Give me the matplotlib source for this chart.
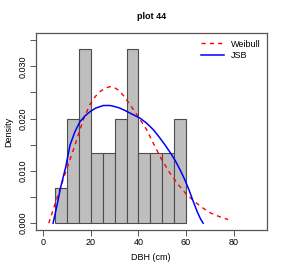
import numpy as np
import matplotlib
matplotlib.use("Agg")
import matplotlib.pyplot as plt

plt.rcParams['font.family'] = ['Liberation Sans', 'DejaVu Sans']

# Histogram of DBH (5 cm classes), counts per class
bin_edges = [5, 10, 15, 20, 25, 30, 35, 40, 45, 50, 55, 60]
counts = [1, 3, 5, 2, 2, 3, 5, 2, 2, 2, 3]

# Fitted densities
weibull_x = [2.3, 4.5, 7.3, 10.1, 13.3, 16.8, 19.6, 22, 24, 26, 28, 30, 32, 34, 37, 40,
             43.4, 46, 49.7, 53.2, 56.7, 60.2, 63.7, 66.5, 69.3, 72, 75, 77.7]
weibull_y = [0, .0031, .0069, .0107, .0149, .0198, .0227, .0243, .0252, .0258, .0261, .0259,
             .0253, .0242, .0223, .0203, .0179, .0155, .0122, .0096, .0074, .0055, .0041,
             .0031, .0022, .0016, .0011, .0007]

jsb_x = [4.1, 5.9, 7.3, 9.4, 11.2, 13.3, 15.4, 17.5, 19.6, 22, 25.2, 28, 30, 32.2, 35, 37.5,
         40.6, 43.5, 46.2, 48.5, 51.1, 53.2, 55.3, 57.5, 59.5, 61.3, 63, 64.7, 66, 67.2]
jsb_y = [0, .0037, .0069, .0107, .0149, .0175, .0194, .0205, .0213, .0220, .0225, .0225, .0223,
         .0220, .0214, .0208, .0201, .0191, .0179, .0166, .0150, .0136, .0121, .0102, .0083,
         .0063, .0042, .0022, .0009, 0]

n = sum(counts)
width = bin_edges[1] - bin_edges[0]
density = np.array(counts) / (n * width)

fig = plt.figure(figsize=(2.84, 2.73), dpi=100)
ax = fig.add_axes([0.1257, 0.1575, 0.939 - 0.1257, 0.878 - 0.1575])

ax.bar(bin_edges[:-1], density, width=width, align='edge', color='#bebebe',
       edgecolor='#4d4d4d', linewidth=0.8)
ax.plot(weibull_x, weibull_y, color='red', linestyle=(0, (3, 3)), linewidth=1.0, label='Weibull')
ax.plot(jsb_x, jsb_y, color='blue', linewidth=1.1, label='JSB')

ax.set_xlim(-3.2, 93.9)
ax.set_ylim(-0.0013, 0.0363)
ax.set_xticks([0, 20, 40, 60, 80])
ax.set_yticks([0, 0.01, 0.02, 0.03])
ax.set_yticklabels(['0.000', '0.010', '0.020', '0.030'], rotation=90, va='center')
ax.set_yticks([0.005, 0.015, 0.025, 0.035], minor=True)
ax.tick_params(which='both', direction='out', length=4, width=0.7, color='#555555',
               labelsize=6.5, pad=2)

for s in ax.spines.values():
    s.set_color('#555555')
    s.set_linewidth(0.9)

ax.set_xlabel('DBH (cm)', fontsize=6.5, labelpad=4)
ax.set_ylabel('Density', fontsize=6.5, labelpad=4)
ax.set_title('plot 44', fontsize=6.5, fontweight='bold', pad=10)

ax.legend(loc='upper right', frameon=False, fontsize=6.5, handlelength=2.6,
          borderaxespad=0.3, labelspacing=0.3, handletextpad=0.7)

fig.savefig('out.png', dpi=100)
